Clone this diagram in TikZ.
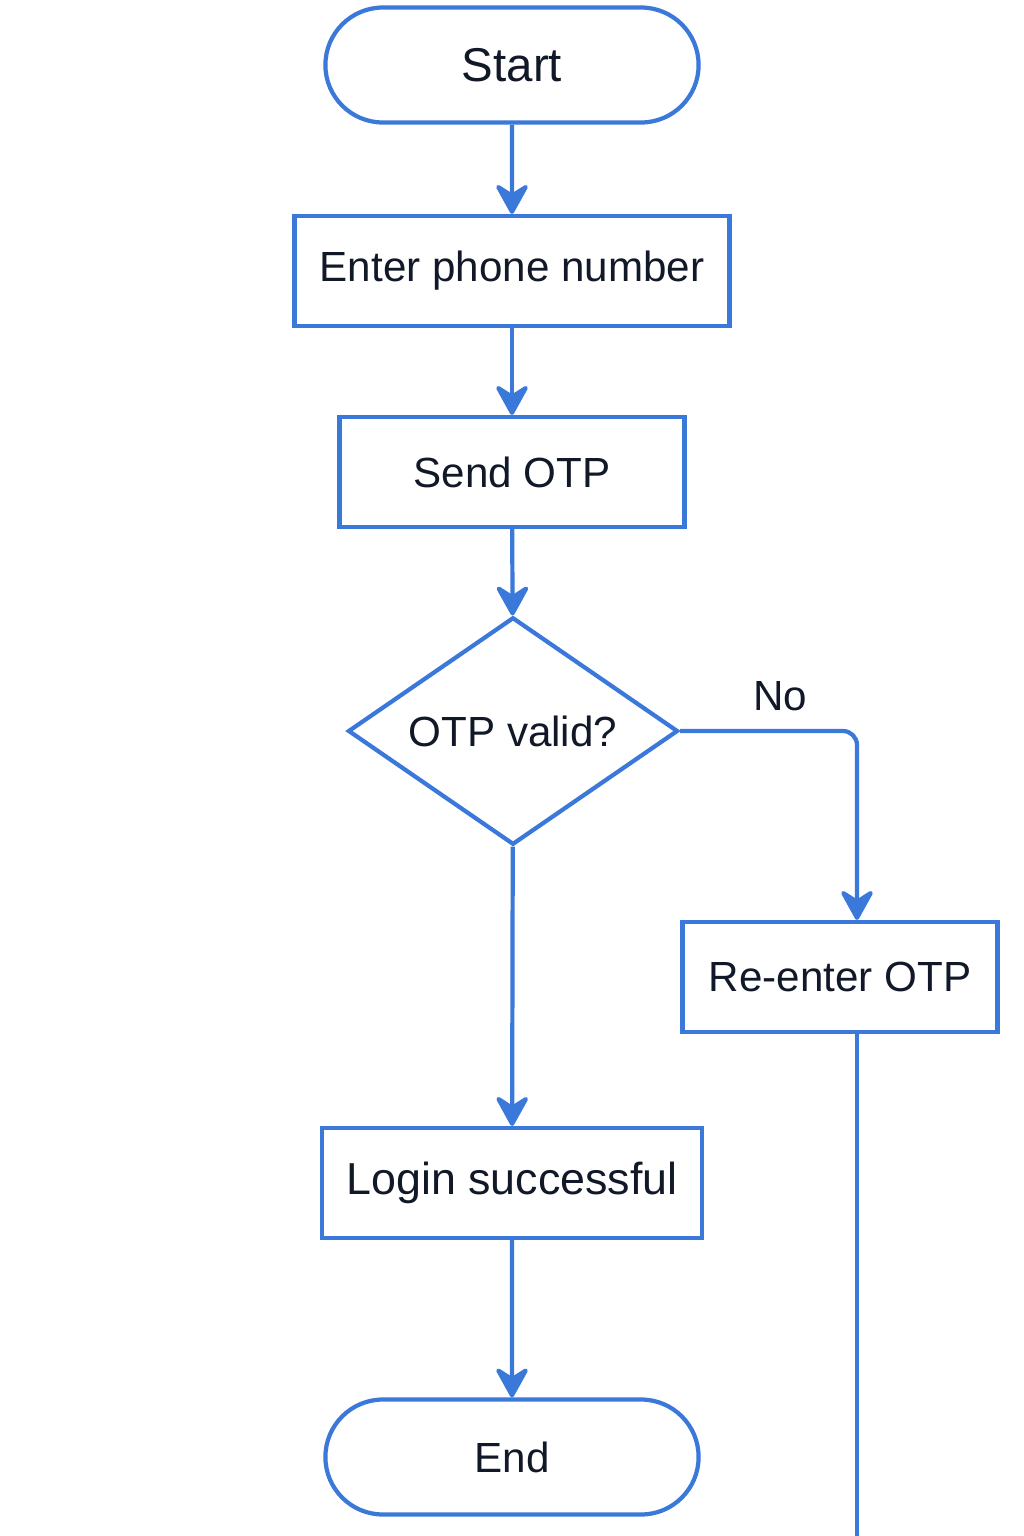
\documentclass[tikz,border=0pt]{standalone}
\usepackage{fontspec}
\setmainfont{Liberation Sans}
\usetikzlibrary{shapes.geometric,shapes.misc,arrows.meta}
\definecolor{flowblue}{RGB}{58,120,218}
\definecolor{ink}{RGB}{17,24,39}
\begin{document}
\begin{tikzpicture}[
    x=0.02cm, y=-0.02cm,
    every node/.style={text=ink, font=\fontsize{24}{28}\selectfont},
    term/.style={rounded rectangle, draw=flowblue, line width=2.4pt, minimum width=7.7cm, minimum height=2.3cm},
    box/.style={rectangle, draw=flowblue, line width=2.4pt, minimum height=2.2cm, inner xsep=0pt},
    cond/.style={diamond, shape aspect=1.45, draw=flowblue, line width=2.4pt, minimum width=6.6cm, minimum height=4.55cm, inner sep=0pt},
    flow/.style={draw=flowblue, line width=2.4pt, -{Stealth[length=20pt, width=22pt, inset=7pt, round]}},
    wire/.style={draw=flowblue, line width=2.4pt}
]
\useasboundingbox (0,0) rectangle (1024,1536);
\node[term, font=\fontsize{27}{30}\selectfont] (start) at (512,65) {Start};
\node[box, minimum width=8.7cm] (phone) at (512,271) {Enter phone number};
\node[box, minimum width=6.9cm] (send) at (512,472) {Send OTP};
\node[cond] (valid) at (513,731) {OTP valid?};
\node[box, minimum width=6.3cm] (reenter) at (840,977) {Re-enter OTP};
\node[box, minimum width=7.6cm, font=\fontsize{25.5}{29}\selectfont] (login) at (512,1183) {Login successful};
\node[term] (end) at (512,1457) {End};
\node (no) at (780,696) {No};
\coordinate (out) at (857,1536);

\draw[flow] (start) -- (phone);
\draw[flow] (phone) -- (send);
\draw[flow] (send) -- (valid);
\draw[flow] (valid) -- (login);
\draw[flow] (login) -- (end);
\draw[flow, rounded corners=8] (valid.east) -| (out |- reenter.north);
\draw[wire] (out |- reenter.south) -- (out);
\end{tikzpicture}
\end{document}
